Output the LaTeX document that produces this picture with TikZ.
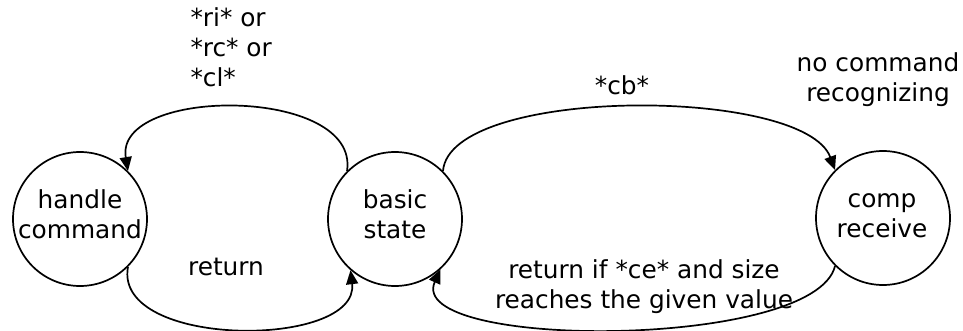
\documentclass[tikz,border=0pt]{standalone}
\usepackage{fontspec}
\setmainfont{DejaVu Sans}
\usetikzlibrary{arrows.meta}
\begin{document}
\begin{tikzpicture}[x=1pt,y=-1pt,
  every node/.style={font=\fontsize{24.8}{30}\selectfont},
  state/.style={draw,circle,line width=1.7pt,minimum size=134pt,inner sep=0pt},
  stname/.style={align=center,anchor=base},
  lbl/.style={align=center,anchor=base},
  trans/.style={line width=1.7pt,-{Triangle[length=14pt,width=12pt]}}]
\useasboundingbox (0,0) rectangle (963,331);

% states (text nodes are anchored at the baseline of their last line)
\node[state] (h) at (80,219) {};
\node[state] (b) at (395,219) {};
\node[state] (c) at (883,218) {};
\node[stname] (ht) at (80,238) {handle\\command};
\node[stname] (bt) at (395,238) {basic\\state};
\node[stname] (ct) at (882,237) {comp\\receive};

% transitions
\draw[trans] (b.135) .. controls (360,86) and (114,86) .. (h.45);
\draw[trans] (h.-45) .. controls (113,349) and (360,349) .. (b.-131);
\draw[trans] (b.45) .. controls (450,86) and (804,86) .. (c.135);
\draw[trans] (c.-135) .. controls (815,350) and (404,350) .. (b.-48);

% transition labels
\node[align=left,anchor=base west] (l1) at (187,87) {*ri* or\\*rc* or\\*cl*};
\node[lbl] (l2) at (226,275) {return};
\node[lbl] (l3) at (622,95) {*cb*};
\node[lbl] (l4) at (878,102) {no command\\recognizing};
\node[lbl] (l5) at (644,308) {return if *ce* and size\\reaches the given value};
\end{tikzpicture}
\end{document}
